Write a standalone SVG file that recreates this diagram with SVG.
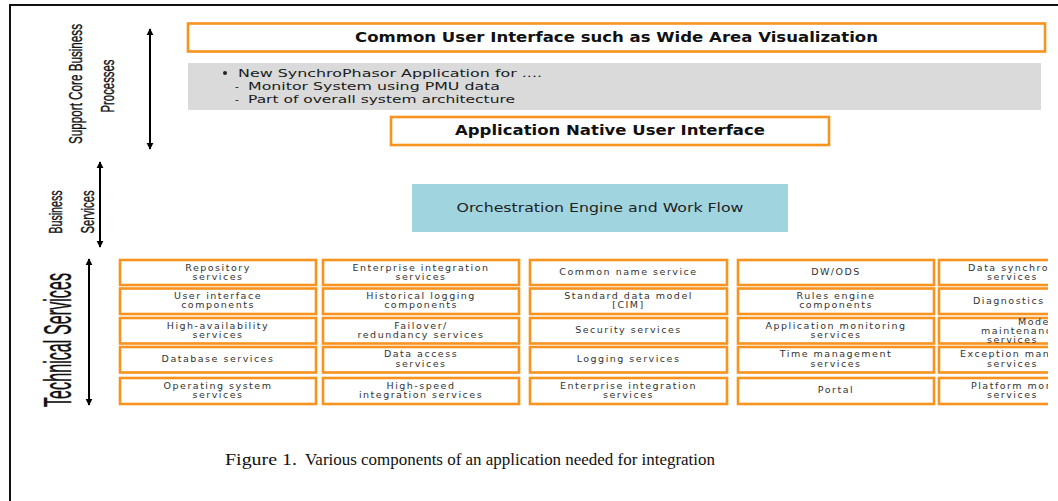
<svg xmlns="http://www.w3.org/2000/svg" width="1058" height="501" viewBox="0 0 1058 501">
<defs>
<style>
.ob{fill:#fff;stroke:#f7931e;stroke-width:2.6}
.g{font-family:"DejaVu Sans",sans-serif;font-size:9.5px;letter-spacing:1.5px;fill:#333;text-anchor:middle}
.gs{font-family:"DejaVu Sans",sans-serif;font-size:9.5px;letter-spacing:1.5px;fill:#333}
.t{font-family:"DejaVu Sans",sans-serif;font-weight:bold;font-size:13.5px;fill:#111}
.gr{font-family:"DejaVu Sans",sans-serif;font-size:10.5px;fill:#1a1a1a}
.rt{font-family:"Liberation Sans",sans-serif;fill:#111;stroke:#111;stroke-width:0.35px;text-anchor:middle}
.ar{stroke:#000;stroke-width:2;fill:none;marker-start:url(#ah);marker-end:url(#ah)}
</style>
<marker id="ah" viewBox="0 0 10 10" refX="9" refY="5" markerWidth="3.6" markerHeight="3.6" orient="auto-start-reverse">
<path d="M0,0 L10,5 L0,10 z" fill="#000"/>
</marker>
<clipPath id="clip5"><rect x="930" y="250" width="118" height="160"/></clipPath>
</defs>
<rect width="1058" height="501" fill="#fff"/>
<path d="M10,501 V5 H1058" fill="none" stroke="#111" stroke-width="2"/>

<g id="labels">
<text class="rt" font-size="18" textLength="120" lengthAdjust="spacingAndGlyphs" transform="translate(82,84) rotate(-90)">Support Core Business</text>
<text class="rt" font-size="18" textLength="53" lengthAdjust="spacingAndGlyphs" transform="translate(114,86) rotate(-90)">Processes</text>
<text class="rt" font-size="18" textLength="43" lengthAdjust="spacingAndGlyphs" transform="translate(62,212) rotate(-90)">Business</text>
<text class="rt" font-size="18" textLength="43" lengthAdjust="spacingAndGlyphs" transform="translate(94,212) rotate(-90)">Services</text>
<text class="rt" font-size="38" stroke-width="0.9" textLength="134" lengthAdjust="spacingAndGlyphs" transform="translate(71,340) rotate(-90)">Technical Services</text>
</g>

<g id="connectors">
<line class="ar" x1="150" y1="29" x2="150" y2="149"/>
<line class="ar" x1="100" y1="162" x2="100" y2="247"/>
<line class="ar" x1="89" y1="259" x2="89" y2="405"/>
</g>

<g id="common-ui">
<rect class="ob" x="188" y="23.5" width="857" height="28" stroke-width="3"/>
<text class="t" x="616.5" y="41.5" text-anchor="middle" textLength="523" lengthAdjust="spacingAndGlyphs">Common User Interface such as Wide Area Visualization</text>
</g>

<g id="synchrophasor">
<rect x="188" y="63" width="853" height="47" fill="#dadada"/>
<circle cx="225" cy="73" r="2" fill="#222"/>
<text class="gr" x="238" y="76.7" textLength="304" lengthAdjust="spacingAndGlyphs">New SynchroPhasor Application for  ....</text>
<text class="gr" x="235" y="90">-</text>
<text class="gr" x="248" y="90" textLength="252" lengthAdjust="spacingAndGlyphs">Monitor System using PMU data</text>
<text class="gr" x="235" y="102.7">-</text>
<text class="gr" x="248" y="102.7" textLength="267" lengthAdjust="spacingAndGlyphs">Part of overall system architecture</text>
</g>

<g id="native-ui">
<rect class="ob" x="391" y="117" width="438" height="28" stroke-width="3"/>
<text class="t" x="610" y="135" text-anchor="middle" textLength="310" lengthAdjust="spacingAndGlyphs">Application Native User Interface</text>
</g>

<g id="orchestration">
<rect x="412" y="184" width="376" height="48" fill="#a0d4df"/>
<text x="600" y="212" font-family="DejaVu Sans, sans-serif" font-size="12.5" fill="#222" text-anchor="middle" textLength="287" lengthAdjust="spacingAndGlyphs">Orchestration Engine and Work Flow</text>
</g>

<g id="col1">
<rect class="ob" x="120" y="260" width="196" height="25"/>
<text class="g" x="218" y="270.5">Repository</text><text class="g" x="218" y="279.8">services</text>
<rect class="ob" x="120" y="288.5" width="196" height="25.5"/>
<text class="g" x="218" y="299">User interface</text><text class="g" x="218" y="308.3">components</text>
<rect class="ob" x="120" y="318" width="196" height="25.5"/>
<text class="g" x="218" y="328.5">High-availability</text><text class="g" x="218" y="337.8">services</text>
<rect class="ob" x="120" y="347" width="196" height="25.5"/>
<text class="g" x="218" y="362.3">Database services</text>
<rect class="ob" x="120" y="378" width="196" height="26"/>
<text class="g" x="218" y="388.8">Operating system</text><text class="g" x="218" y="398.1">services</text>
</g>

<g id="col2">
<rect class="ob" x="323" y="260" width="196" height="25"/>
<text class="g" x="421" y="270.5">Enterprise integration</text><text class="g" x="421" y="279.8">services</text>
<rect class="ob" x="323" y="288.5" width="196" height="25.5"/>
<text class="g" x="421" y="299">Historical logging</text><text class="g" x="421" y="308.3">components</text>
<rect class="ob" x="323" y="318" width="196" height="25.5"/>
<text class="g" x="421" y="328.5">Failover/</text><text class="g" x="421" y="337.8">redundancy services</text>
<rect class="ob" x="323" y="347" width="196" height="25.5"/>
<text class="g" x="421" y="357.3">Data access</text><text class="g" x="421" y="366.6">services</text>
<rect class="ob" x="323" y="378" width="196" height="26"/>
<text class="g" x="421" y="388.8">High-speed</text><text class="g" x="421" y="398.1">integration services</text>
</g>

<g id="col3">
<rect class="ob" x="530" y="260" width="197" height="25"/>
<text class="g" x="628.5" y="275.3">Common name service</text>
<rect class="ob" x="530" y="288.5" width="197" height="25.5"/>
<text class="g" x="628.5" y="299">Standard data model</text><text class="g" x="628.5" y="308.3">[CIM]</text>
<rect class="ob" x="530" y="318" width="197" height="25.5"/>
<text class="g" x="628.5" y="333.3">Security services</text>
<rect class="ob" x="530" y="347" width="197" height="25.5"/>
<text class="g" x="628.5" y="362.3">Logging services</text>
<rect class="ob" x="530" y="378" width="197" height="26"/>
<text class="g" x="628.5" y="388.8">Enterprise integration</text><text class="g" x="628.5" y="398.1">services</text>
</g>

<g id="col4">
<rect class="ob" x="738" y="260" width="196" height="25"/>
<text class="g" x="836" y="275.3">DW/ODS</text>
<rect class="ob" x="738" y="288.5" width="196" height="25.5"/>
<text class="g" x="836" y="299">Rules engine</text><text class="g" x="836" y="308.3">components</text>
<rect class="ob" x="738" y="318" width="196" height="25.5"/>
<text class="g" x="836" y="328.5">Application monitoring</text><text class="g" x="836" y="337.8">services</text>
<rect class="ob" x="738" y="347" width="196" height="25.5"/>
<text class="g" x="836" y="357.3">Time management</text><text class="g" x="836" y="366.6">services</text>
<rect class="ob" x="738" y="378" width="196" height="26"/>
<text class="g" x="836" y="393.3">Portal</text>
</g>

<g id="col5" clip-path="url(#clip5)">
<rect class="ob" x="939" y="260" width="196" height="25"/>
<text class="gs" x="968" y="270.5">Data synchronization</text><text class="gs" x="987" y="279.8">services</text>
<rect class="ob" x="939" y="288.5" width="196" height="25.5"/>
<text class="gs" x="973" y="304.3">Diagnostics services</text>
<rect class="ob" x="939" y="318" width="196" height="25.5"/>
<text class="gs" x="1018" y="324.5" font-size="7.5px">Model</text><text class="gs" x="981" y="333.5" font-size="7.5px">maintenance</text><text class="gs" x="987" y="342.5" font-size="7.5px">services</text>
<rect class="ob" x="939" y="347" width="196" height="25.5"/>
<text class="gs" x="960" y="357.3">Exception management</text><text class="gs" x="987" y="366.6">services</text>
<rect class="ob" x="939" y="378" width="196" height="26"/>
<text class="gs" x="971" y="388.8">Platform monitoring</text><text class="gs" x="987" y="398.1">services</text>
</g>

<g id="caption">
<text x="225" y="465" font-family="Liberation Serif, serif" font-size="17" fill="#111" textLength="72" lengthAdjust="spacingAndGlyphs">Figure 1.</text>
<text x="305" y="465" font-family="Liberation Serif, serif" font-size="17" fill="#111" textLength="410" lengthAdjust="spacingAndGlyphs">Various components of an application needed for integration</text>
</g>
</svg>
